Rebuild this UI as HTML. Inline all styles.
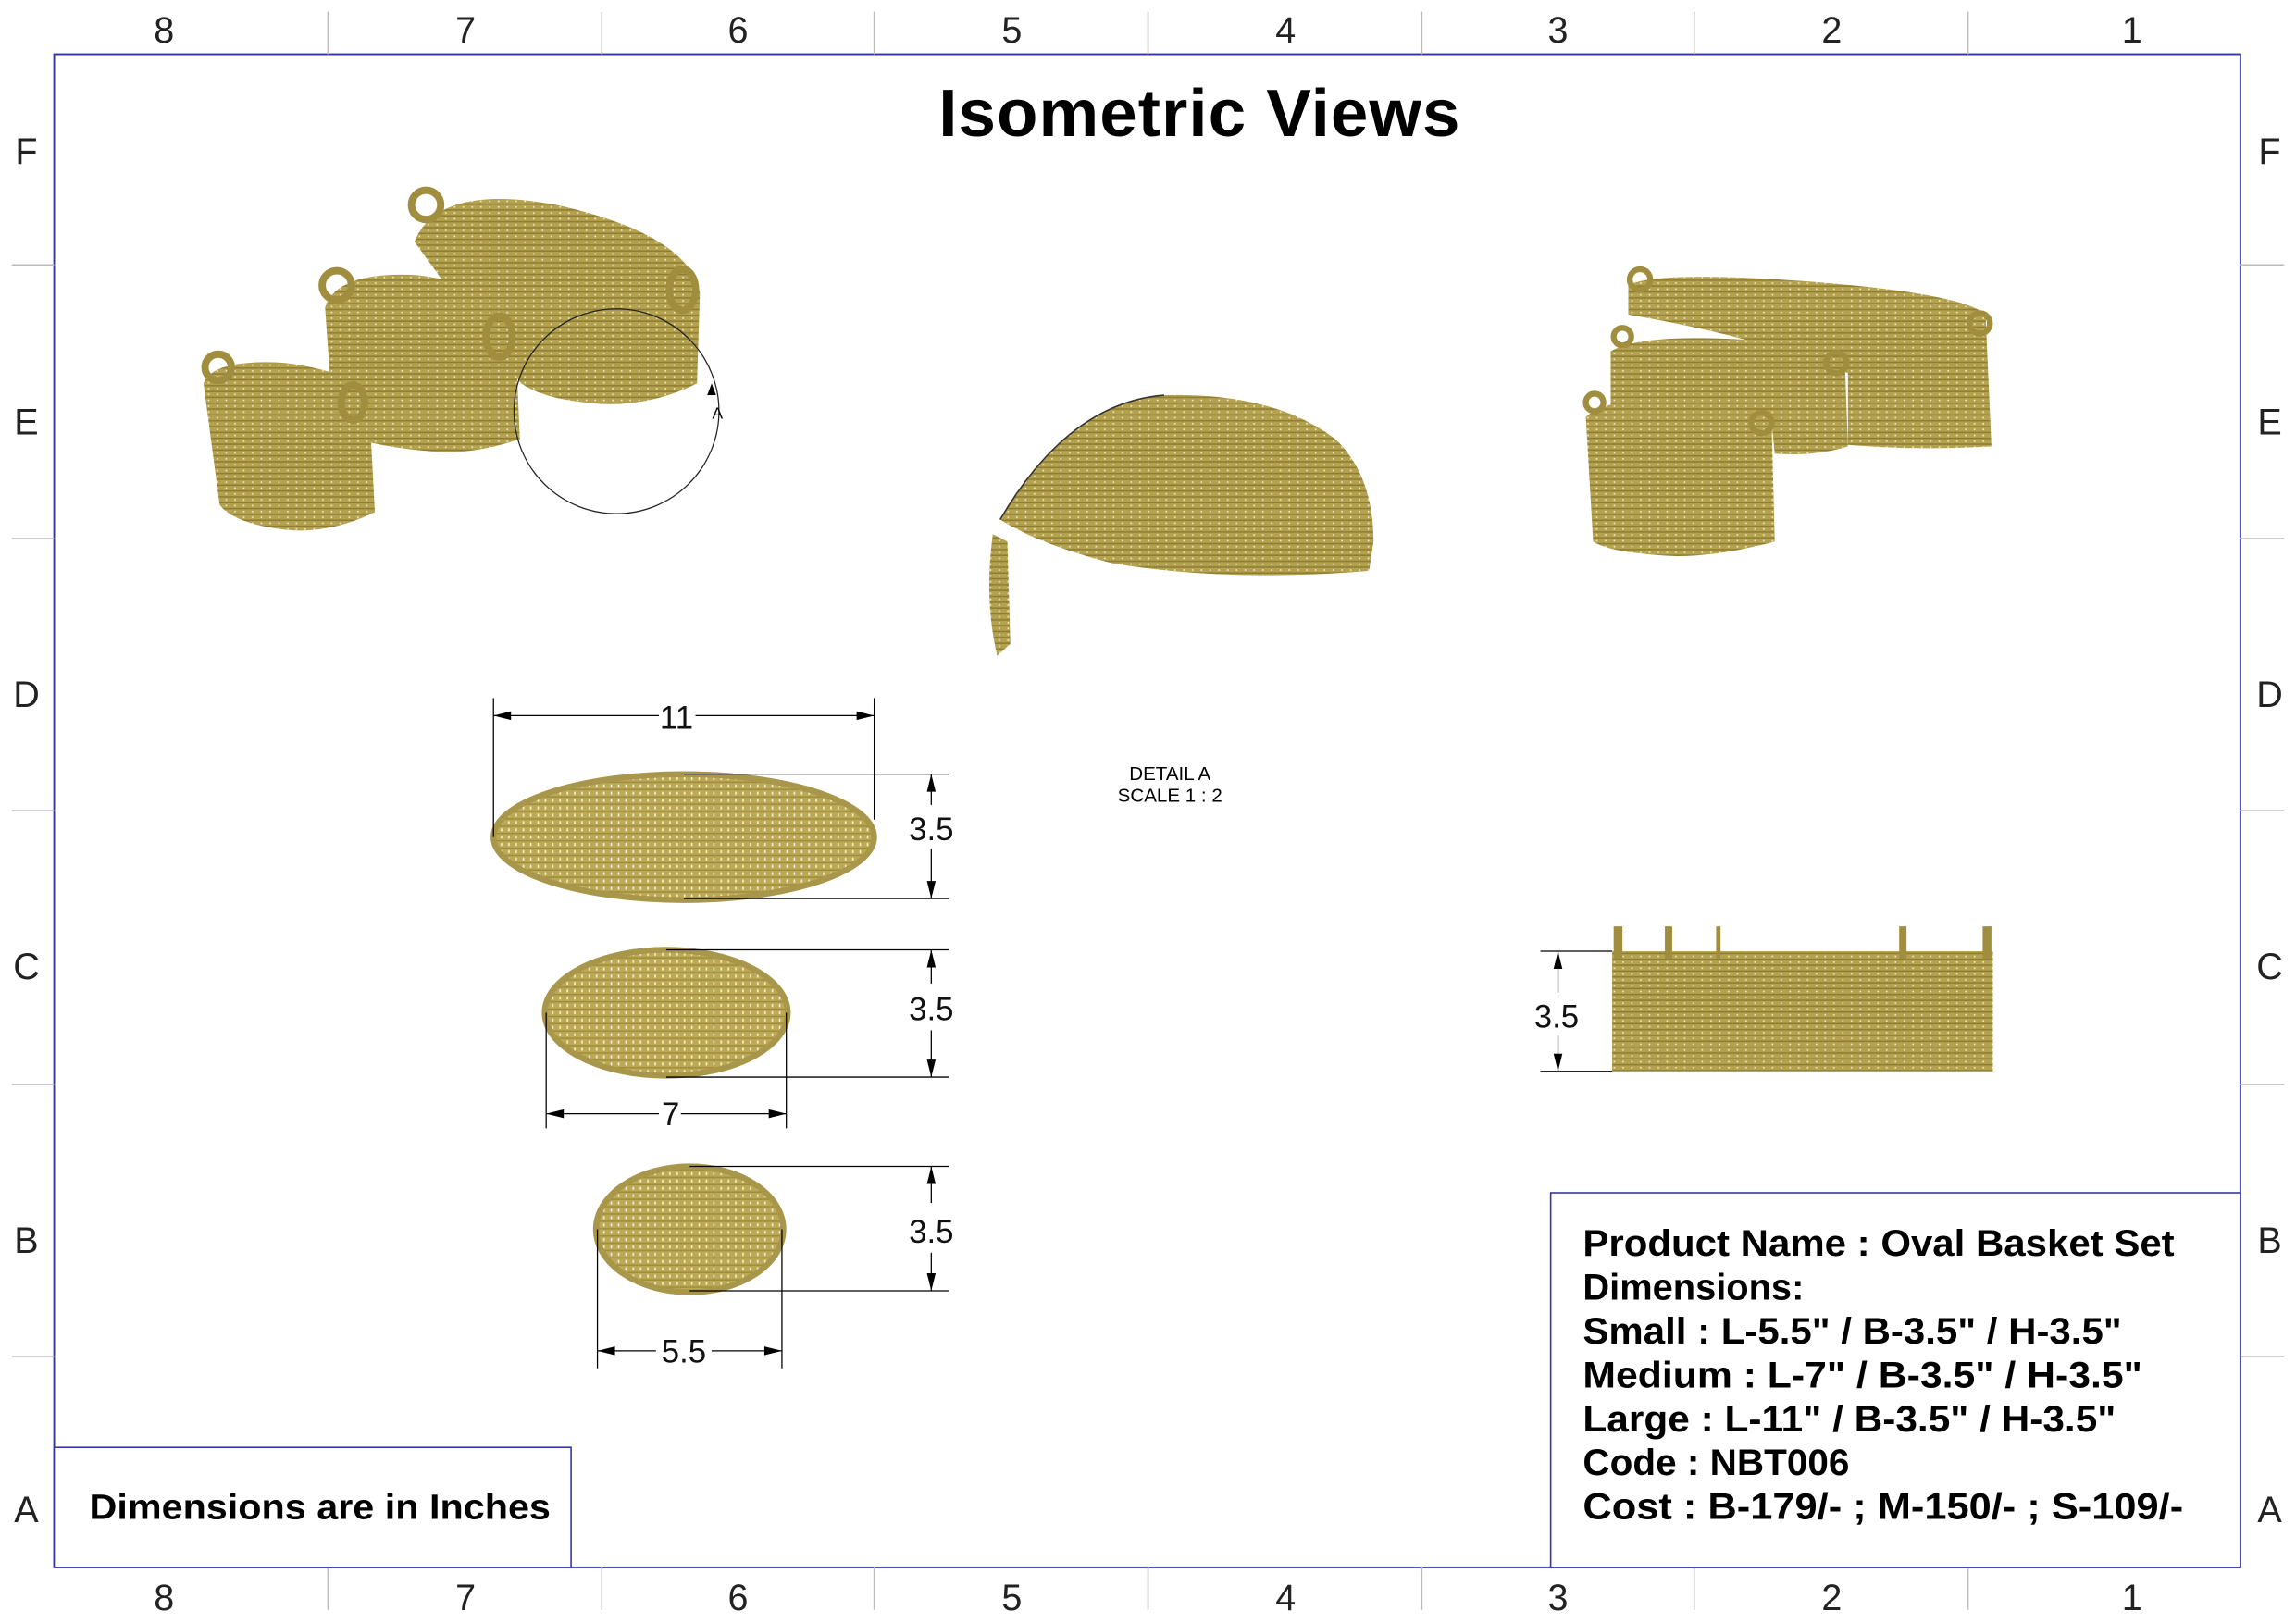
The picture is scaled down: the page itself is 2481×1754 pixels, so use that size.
<!DOCTYPE html>
<html><head><meta charset="utf-8"><style>
html,body{margin:0;padding:0;background:#fff}
svg{display:block}
text{font-family:"Liberation Sans",sans-serif}
</style></head><body>
<svg width="2481" height="1754" viewBox="0 0 1568 1109" preserveAspectRatio="none" xmlns="http://www.w3.org/2000/svg">
<defs>
<pattern id="h" width="6" height="4" patternUnits="userSpaceOnUse">
<rect width="6" height="4" fill="#b4a24f"/><rect y="3" width="6" height="1" fill="#8e7d33"/><rect x="4" y="1" width="1" height="1" fill="#f4efd8"/>
</pattern>
<pattern id="t" width="5" height="5" patternUnits="userSpaceOnUse">
<rect width="5" height="5" fill="#bca955"/><rect x="2" y="1" width="1" height="2" fill="#f6f1dc"/><rect y="4" width="5" height="1" fill="#a08e3e"/>
</pattern>
</defs>
<rect width="1568" height="1109" fill="#fff"/>
<rect x="37" y="37" width="1493" height="1034" fill="none" stroke="#3333aa" stroke-width="1.2"/>
<g stroke="#bbb" stroke-width="1">
<path d="M224 8V37M411 8V37M597 8V37M784 8V37M971 8V37M1157 8V37M1344 8V37"/>
<path d="M224 1071V1100M411 1071V1100M597 1071V1100M784 1071V1100M971 1071V1100M1157 1071V1100M1344 1071V1100"/>
<path d="M8 181H37M8 368H37M8 554H37M8 741H37M8 927H37"/>
<path d="M1530 181H1560M1530 368H1560M1530 554H1560M1530 741H1560M1530 927H1560"/>
</g>
<g font-size="25" fill="#222" text-anchor="middle">
<text x="112" y="29">8</text><text x="318" y="29">7</text><text x="504" y="29">6</text><text x="691" y="29">5</text><text x="878" y="29">4</text><text x="1064" y="29">3</text><text x="1251" y="29">2</text><text x="1456" y="29">1</text>
<text x="112" y="1100">8</text><text x="318" y="1100">7</text><text x="504" y="1100">6</text><text x="691" y="1100">5</text><text x="878" y="1100">4</text><text x="1064" y="1100">3</text><text x="1251" y="1100">2</text><text x="1456" y="1100">1</text>
<text x="18" y="112">F</text><text x="18" y="297">E</text><text x="18" y="483">D</text><text x="18" y="669">C</text><text x="18" y="856">B</text><text x="18" y="1040">A</text>
<text x="1550" y="112">F</text><text x="1550" y="297">E</text><text x="1550" y="483">D</text><text x="1550" y="669">C</text><text x="1550" y="856">B</text><text x="1550" y="1040">A</text>
</g>
<text x="819" y="93" font-size="46" font-weight="bold" text-anchor="middle" fill="#000" textLength="356">Isometric Views</text>

<!-- top-left isometric baskets -->
<g>
<path d="M283 165 Q300 125 380 140 Q470 160 478 200 L476 262 Q440 280 400 275 Q370 272 356 262 L330 230 Z" fill="url(#h)"/>
<circle cx="291" cy="140" r="10" fill="none" stroke="#a08e3e" stroke-width="5"/>
<ellipse cx="466" cy="198" rx="9" ry="14" fill="none" stroke="#a08e3e" stroke-width="5"/>
<path d="M222 210 Q230 185 285 188 Q345 195 352 230 L355 300 Q320 312 290 308 Q255 305 228 295 Z" fill="url(#h)"/>
<circle cx="230" cy="195" r="10" fill="none" stroke="#a08e3e" stroke-width="5"/>
<ellipse cx="341" cy="230" rx="9" ry="14" fill="none" stroke="#a08e3e" stroke-width="5"/>
<path d="M139 262 Q145 245 195 248 Q248 255 252 275 L256 350 Q225 365 195 362 Q160 358 150 345 Z" fill="url(#h)"/>
<circle cx="149" cy="251" r="9" fill="none" stroke="#a08e3e" stroke-width="5"/>
<ellipse cx="241" cy="275" rx="8" ry="12" fill="none" stroke="#a08e3e" stroke-width="5"/>
</g>
<circle cx="421" cy="281" r="70" fill="none" stroke="#222" stroke-width="0.8"/>
<text x="490" y="286" font-size="11" text-anchor="middle">A</text>
<path d="M486 262 L489 270 L483 270 Z" fill="#000"/>

<!-- detail A -->
<path d="M683 355 Q730 275 795 270 Q870 268 912 300 Q938 325 938 370 L935 390 Q840 398 760 385 Q710 372 683 355 Z" fill="url(#h)"/>
<path d="M683 355 Q730 275 795 270" fill="none" stroke="#333" stroke-width="1"/>
<path d="M678 365 L688 370 L690 440 L681 448 Q672 410 678 365 Z" fill="url(#h)"/>
<text x="799" y="533" font-size="13" text-anchor="middle">DETAIL A</text>
<text x="799" y="548" font-size="13" text-anchor="middle">SCALE 1 : 2</text>

<!-- top views -->
<ellipse cx="467" cy="572" rx="130" ry="43" fill="url(#t)" stroke="#a8964a" stroke-width="4"/>
<ellipse cx="455" cy="692" rx="83" ry="43" fill="url(#t)" stroke="#a8964a" stroke-width="4"/>
<ellipse cx="471" cy="840" rx="64" ry="43" fill="url(#t)" stroke="#a8964a" stroke-width="4"/>

<g stroke="#000" stroke-width="0.8" fill="none">
<path d="M337 477V572M597 477V560M337 489H450M475 489H597"/>
<path d="M467 529H648M467 614H648M636 529V550M636 580V614"/>
<path d="M455 649H648M455 736H648M636 649V672M636 704V736"/>
<path d="M373 692V771M537 692V771M373 761H450M465 761H537"/>
<path d="M471 797H648M471 882H648M636 797V822M636 856V882"/>
<path d="M408 840V935M534 840V935M408 923H448M486 923H534"/>
<path d="M1052 650H1101M1052 732H1101M1064 650V678M1064 708V732"/>
</g>
<g fill="#000">
<path d="M337 489l12-3v6zM597 489l-12-3v6z"/>
<path d="M636 529l-3 12h6zM636 614l-3-12h6z"/>
<path d="M636 649l-3 12h6zM636 736l-3-12h6z"/>
<path d="M373 761l12-3v6zM537 761l-12-3v6z"/>
<path d="M636 797l-3 12h6zM636 882l-3-12h6z"/>
<path d="M408 923l12-3v6zM534 923l-12-3v6z"/>
<path d="M1064 650l-3 12h6zM1064 732l-3-12h6z"/>
</g>
<g font-size="22" text-anchor="middle" fill="#111">
<text x="462" y="498">11</text><text x="636" y="574">3.5</text><text x="636" y="697">3.5</text>
<text x="458" y="769">7</text><text x="636" y="849">3.5</text><text x="467" y="931">5.5</text><text x="1063" y="702">3.5</text>
</g>

<!-- right isometric -->
<path d="M1112 195 Q1130 185 1230 192 Q1340 200 1356 215 L1360 305 Q1310 308 1262 304 L1262 255 Q1200 230 1112 215 Z" fill="url(#h)"/>
<path d="M1100 240 Q1120 228 1190 232 Q1255 240 1260 250 L1262 305 Q1240 312 1212 310 L1210 290 Q1160 275 1100 280 Z" fill="url(#h)"/>
<path d="M1083 285 Q1095 272 1145 273 Q1205 278 1210 292 L1212 370 Q1175 380 1145 380 Q1100 378 1088 370 Z" fill="url(#h)"/>
<circle cx="1120" cy="191" r="7" fill="none" stroke="#a08e3e" stroke-width="4"/>
<circle cx="1352" cy="221" r="7" fill="none" stroke="#a08e3e" stroke-width="4"/>
<circle cx="1108" cy="230" r="6" fill="none" stroke="#a08e3e" stroke-width="4"/>
<circle cx="1254" cy="248" r="7" fill="none" stroke="#a08e3e" stroke-width="4"/>
<circle cx="1089" cy="275" r="6" fill="none" stroke="#a08e3e" stroke-width="4"/>
<circle cx="1203" cy="289" r="7" fill="none" stroke="#a08e3e" stroke-width="4"/>

<!-- front view -->
<rect x="1101" y="650" width="260" height="82" fill="url(#h)"/>
<g fill="#a08e3e"><rect x="1102" y="633" width="6" height="22"/><rect x="1137" y="633" width="5" height="22"/><rect x="1172" y="633" width="3" height="22"/><rect x="1297" y="633" width="5" height="22"/><rect x="1354" y="633" width="6" height="22"/></g>

<!-- title blocks -->
<rect x="1059" y="815" width="471" height="256" fill="#fff" stroke="#3333aa" stroke-width="1"/>
<g font-size="25" font-weight="bold" fill="#000" lengthAdjust="spacingAndGlyphs">
<text x="1081" y="858" textLength="404" lengthAdjust="spacingAndGlyphs">Product Name : Oval Basket Set</text>
<text x="1081" y="888" textLength="151" lengthAdjust="spacingAndGlyphs">Dimensions:</text>
<text x="1081" y="918" textLength="368" lengthAdjust="spacingAndGlyphs">Small : L-5.5" / B-3.5" / H-3.5"</text>
<text x="1081" y="948" textLength="382" lengthAdjust="spacingAndGlyphs">Medium : L-7" / B-3.5" / H-3.5"</text>
<text x="1081" y="978" textLength="364" lengthAdjust="spacingAndGlyphs">Large : L-11" / B-3.5" / H-3.5"</text>
<text x="1081" y="1008" textLength="182" lengthAdjust="spacingAndGlyphs">Code : NBT006</text>
<text x="1081" y="1038" textLength="410" lengthAdjust="spacingAndGlyphs">Cost : B-179/- ; M-150/- ; S-109/-</text>
</g>
<rect x="37" y="989" width="353" height="82" fill="#fff" stroke="#3333aa" stroke-width="1"/>
<text x="61" y="1038" font-size="24" font-weight="bold" fill="#000" textLength="315" lengthAdjust="spacingAndGlyphs">Dimensions are in Inches</text>
</svg>
</body></html>
